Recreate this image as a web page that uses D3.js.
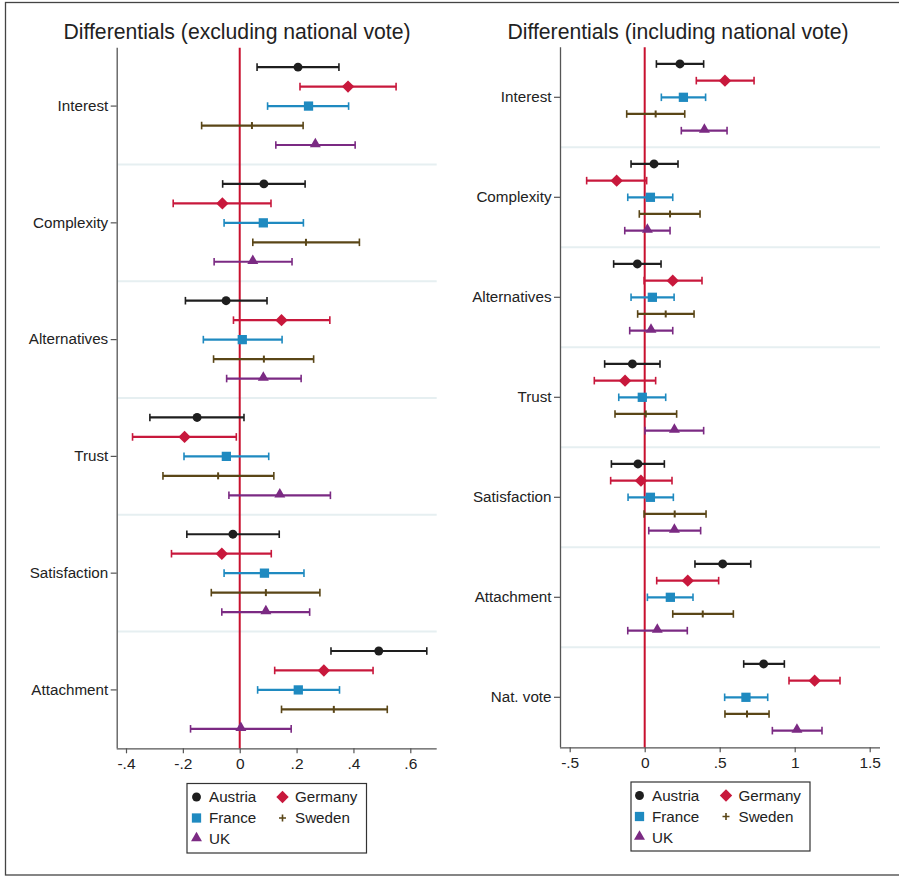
<!DOCTYPE html>
<html><head><meta charset="utf-8">
<script src="https://cdn.jsdelivr.net/npm/d3@7"></script>
<style>body{margin:0;background:#fff}svg{display:block;font-family:"Liberation Sans",Arial,sans-serif}</style>
</head><body>
<svg id="c" width="899" height="877"></svg>
<script>
const countries = ["Austria","Germany","France","Sweden","UK"];
const countryColors = ["#1e1e1e","#c8183c","#1f8ac0","#5a4617","#7b2a83"];
const catsExcl = ["Interest","Complexity","Alternatives","Trust","Satisfaction","Attachment"];
const catsIncl = ["Interest","Complexity","Alternatives","Trust","Satisfaction","Attachment","Nat. vote"];
const ticksExcl = [-0.4,-0.2,0,0.2,0.4,0.6];
const tickLabelsExcl = ["-.4","-.2","0",".2",".4",".6"];
const ticksIncl = [-0.5,0,0.5,1,1.5];
const tickLabelsIncl = ["-.5","0",".5","1","1.5"];
const titleExcl = "Differentials (excluding national vote)";
const titleIncl = "Differentials (including national vote)";

// [lower, estimate, upper] per category
const exclAustria = [[0.061,0.205,0.349],[-0.06,0.085,0.23],[-0.191,-0.048,0.096],[-0.316,-0.15,0.015],[-0.186,-0.024,0.139],[0.321,0.489,0.658]];
const exclGermany = [[0.212,0.381,0.55],[-0.234,-0.061,0.11],[-0.022,0.147,0.317],[-0.377,-0.194,-0.012],[-0.24,-0.063,0.111],[0.123,0.296,0.469]];
const exclFrance  = [[0.098,0.242,0.383],[-0.055,0.083,0.224],[-0.128,0.009,0.149],[-0.196,-0.047,0.102],[-0.055,0.087,0.226],[0.063,0.206,0.351]];
const exclSweden  = [[-0.134,0.043,0.223],[0.046,0.233,0.421],[-0.092,0.085,0.26],[-0.27,-0.076,0.12],[-0.1,0.092,0.282],[0.147,0.331,0.519]];
const exclUK      = [[0.127,0.266,0.406],[-0.09,0.046,0.184],[-0.046,0.083,0.216],[-0.038,0.141,0.319],[-0.063,0.092,0.246],[-0.173,0.004,0.181]];

const inclAustria = [[0.078,0.235,0.393],[-0.091,0.062,0.222],[-0.207,-0.049,0.109],[-0.267,-0.082,0.102],[-0.222,-0.045,0.131],[0.335,0.52,0.707],[0.66,0.793,0.931]];
const inclGermany = [[0.344,0.535,0.729],[-0.387,-0.187,0.013],[-0.004,0.187,0.382],[-0.336,-0.131,0.073],[-0.227,-0.025,0.182],[0.08,0.287,0.493],[0.962,1.133,1.302]];
const inclFrance  = [[0.111,0.258,0.406],[-0.113,0.038,0.187],[-0.091,0.051,0.196],[-0.173,-0.016,0.14],[-0.111,0.038,0.191],[0.018,0.171,0.322],[0.533,0.675,0.82]];
const inclSweden  = [[-0.12,0.073,0.267],[-0.036,0.169,0.369],[-0.047,0.14,0.329],[-0.198,0.007,0.213],[-0.004,0.2,0.409],[0.187,0.387,0.591],[0.535,0.682,0.829]];
const inclUK      = [[0.244,0.398,0.549],[-0.133,0.018,0.169],[-0.1,0.042,0.187],[0.002,0.198,0.393],[0.027,0.198,0.373],[-0.113,0.084,0.284],[0.851,1.015,1.182]];

const svg = d3.select("#c");
const textCol = "#222";
const axisCol = "#555";
const sepCol = "#e6eff1";

svg.append("rect").attr("x",5.5).attr("y",2.5).attr("width",900).attr("height",872.5)
  .attr("fill","none").attr("stroke","#444").attr("stroke-width",1.3);

function symbolPath(i){
  if(i===0) return d3.symbol(d3.symbolCircle, 62)();
  if(i===1){ const r=6.2; return `M0,${-r}L${r},0L0,${r}L${-r},0Z`; }
  if(i===2) return d3.symbol(d3.symbolSquare, 86)();
  if(i===4) return d3.symbol(d3.symbolTriangle, 52)();
  return null;
}

function drawPanel(cfg){
  const g = svg.append("g");
  // scale anchored on two tick pixel positions, extended to the plot edges
  const t0 = cfg.ticks[0], t1 = cfg.ticks[cfg.ticks.length-1];
  const k = (cfg.t1px - cfg.t0px)/(t1 - t0);
  const x = d3.scaleLinear()
    .domain([t0 - (cfg.t0px - cfg.left)/k, t1 + (cfg.right - cfg.t1px)/k])
    .range([cfg.left, cfg.right]);
  const y = d3.scaleBand().domain(cfg.cats).range([cfg.top, cfg.bottom]).padding(0);
  const bw = y.bandwidth();
  const inner = d3.scalePoint().domain(countries).range([bw/6, 5*bw/6]);

  // separators
  cfg.cats.slice(1).forEach(c=>{
    g.append("line").attr("x1",cfg.left+1).attr("x2",cfg.right).attr("y1",y(c)).attr("y2",y(c))
      .attr("stroke",sepCol).attr("stroke-width",2);
  });

  // title
  g.append("text").attr("x",cfg.titleX).attr("y",39).attr("text-anchor","middle")
    .attr("font-size",21.2).attr("fill",textCol).text(cfg.title);

  // x axis
  const xa = d3.axisBottom(x).tickValues(cfg.ticks).tickFormat((d,i)=>cfg.tickLabels[i]).tickSize(5).tickSizeOuter(0);
  const xg = g.append("g").attr("transform",`translate(0,${cfg.bottom})`).call(xa);
  xg.select(".domain").attr("stroke",axisCol).attr("stroke-width",1.3).attr("d",`M${cfg.left},0.5H${cfg.right}`);
  xg.selectAll(".tick line").attr("stroke",axisCol).attr("stroke-width",1.2);
  xg.selectAll(".tick text").attr("font-size",15.5).attr("fill",textCol).attr("dy","0.95em").attr("y",6)
    .attr("font-family","Liberation Sans, Arial, sans-serif");

  // y axis
  const ya = d3.axisLeft(y).tickSize(6).tickSizeOuter(0).tickPadding(2.5);
  const yg = g.append("g").attr("transform",`translate(${cfg.left},0)`).call(ya);
  yg.select(".domain").attr("stroke",axisCol).attr("stroke-width",1.3).attr("d",`M0.5,${cfg.top}V${cfg.bottom}`);
  yg.selectAll(".tick line").attr("stroke",axisCol).attr("stroke-width",1.2);
  yg.selectAll(".tick text").attr("font-size",15.2).attr("fill",textCol)
    .attr("font-family","Liberation Sans, Arial, sans-serif");

  // zero line
  g.append("line").attr("x1",x(0)).attr("x2",x(0)).attr("y1",cfg.top).attr("y2",cfg.bottom)
    .attr("stroke","#c8102e").attr("stroke-width",2);

  // error bars
  countries.forEach((cn,ci)=>{
    const col = countryColors[ci];
    const rows = cfg.data[ci];
    rows.forEach((r,kk)=>{
      const yy = y(cfg.cats[kk]) + inner(cn);
      const gg = g.append("g");
      gg.append("line").attr("x1",x(r[0])).attr("x2",x(r[2])).attr("y1",yy).attr("y2",yy)
        .attr("stroke",col).attr("stroke-width",2.2);
      [r[0],r[2]].forEach(v=>{
        gg.append("line").attr("x1",x(v)).attr("x2",x(v)).attr("y1",yy-3.8).attr("y2",yy+3.8)
          .attr("stroke",col).attr("stroke-width",1.6);
      });
      if(ci===3){
        gg.append("line").attr("x1",x(r[1])).attr("x2",x(r[1])).attr("y1",yy-3.5).attr("y2",yy+3.5)
          .attr("stroke",col).attr("stroke-width",2);
      } else {
        const dy = ci===4 ? -1 : 0;
        gg.append("path").attr("d",symbolPath(ci)).attr("transform",`translate(${x(r[1])},${yy+dy})`)
          .attr("fill",col);
      }
    });
  });

  // legend
  const L = cfg.legend;
  g.append("rect").attr("x",L.x+0.5).attr("y",L.y+0.5).attr("width",L.w).attr("height",L.h)
    .attr("fill","#fff").attr("stroke","#333").attr("stroke-width",1.2);
  countries.forEach((cn,ci)=>{
    const colI = ci%2, rowI = Math.floor(ci/2);
    const mx = L.x + L.mx[colI], ty = L.y + 14 + rowI*21;
    if(ci===3){
      g.append("path").attr("d",`M${mx-3.5},${ty}H${mx+3.5}M${mx},${ty-3.5}V${ty+3.5}`)
        .attr("stroke",countryColors[ci]).attr("stroke-width",1.6);
    } else {
      g.append("path").attr("d",symbolPath(ci)).attr("transform",`translate(${mx},${ty + (ci===4?-1:0)})`)
        .attr("fill",countryColors[ci]);
    }
    g.append("text").attr("x",mx+12.5).attr("y",ty).attr("dy","0.36em").attr("font-size",15.2)
      .attr("fill",textCol).text(cn);
  });
}

drawPanel({
  title:titleExcl, titleX:237, cats:catsExcl,
  left:116.7, right:436.7, top:47.7, bottom:748.3, t0px:126, t1px:410.3,
  ticks:ticksExcl, tickLabels:tickLabelsExcl,
  data:[exclAustria,exclGermany,exclFrance,exclSweden,exclUK],
  legend:{x:186.5,y:783,w:179.5,h:69.5,mx:[10,96]}
});
drawPanel({
  title:titleIncl, titleX:678, cats:catsIncl,
  left:560, right:880, top:47.3, bottom:747.3, t0px:569.7, t1px:869.7,
  ticks:ticksIncl, tickLabels:tickLabelsIncl,
  data:[inclAustria,inclGermany,inclFrance,inclSweden,inclUK],
  legend:{x:630.5,y:781.5,w:179,h:69,mx:[9,95.5]}
});
</script>
</body></html>
